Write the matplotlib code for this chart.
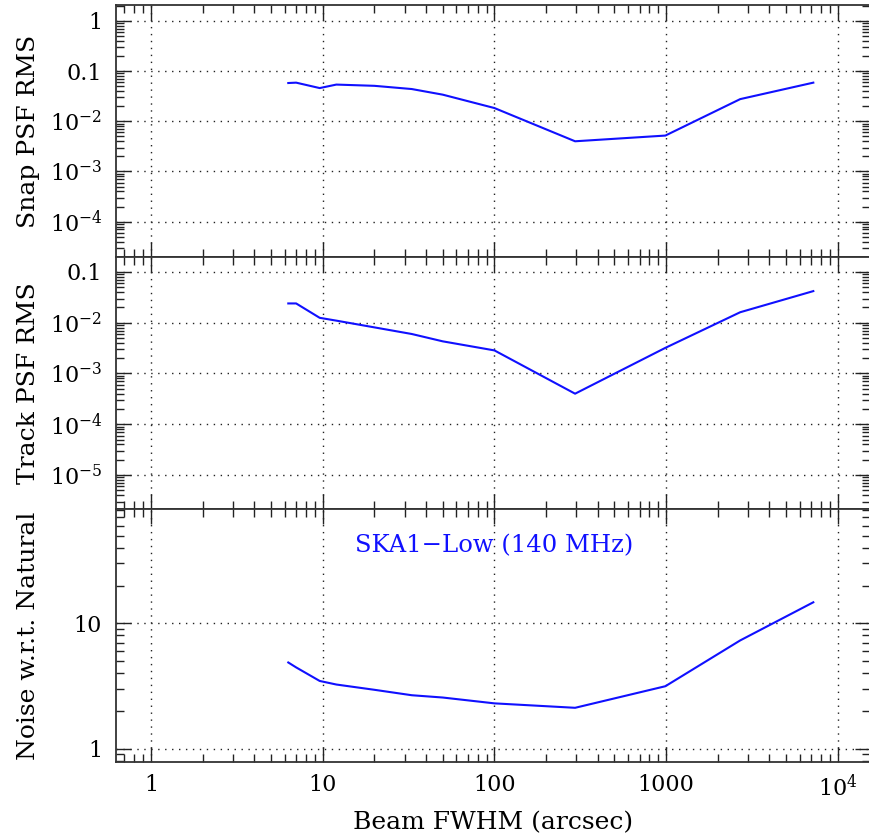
import numpy as np
import matplotlib
matplotlib.use("Agg")
import matplotlib.pyplot as plt
from matplotlib.ticker import LogLocator, FuncFormatter, NullFormatter

# beam FWHM (arcsec) where the curves were sampled
fwhm = [6.3, 7.0, 9.6, 12.0, 20.0, 33.0, 50.0, 100.0, 295.0, 990.0, 2700.0, 7200.0]

snap_rms = [0.058, 0.059, 0.046, 0.054, 0.051, 0.044, 0.034, 0.0184, 0.0040, 0.0052, 0.0277, 0.059]
track_rms = [0.024, 0.024, 0.0125, 0.011, 0.0081, 0.0060, 0.0043, 0.00285, 0.00040, 0.0032, 0.0161, 0.042]
noise_ratio = [4.87, 4.45, 3.47, 3.25, 2.95, 2.67, 2.56, 2.30, 2.12, 3.15, 7.3, 14.7]

ylabels = ["Snap PSF RMS", "Track PSF RMS", "Noise w.r.t. Natural"]
ylims = [(1.95e-5, 2.08), (2.09e-6, 0.195), (0.788, 80.7)]
note = "SKA1\u2212Low (140 MHz)"

plt.rcParams["font.family"] = ["DejaVu Serif"]
plt.rcParams["mathtext.fontset"] = "dejavuserif"


def fmt(v, pos):
    e = int(round(np.log10(v)))
    if -1 <= e <= 3:
        return f"{v:g}"
    return r"$10^{%d}$" % e


fig = plt.figure(figsize=(8.70, 8.39), dpi=100)
gs = fig.add_gridspec(3, 1, left=116 / 870, right=1.0, top=0.994, bottom=0.0921, hspace=0)
axes = [fig.add_subplot(gs[i]) for i in range(3)]

for ax, ys, lab, yl in zip(axes, [snap_rms, track_rms, noise_ratio], ylabels, ylims):
    ax.plot(fwhm, ys, color="#1010ff", lw=1.5)
    ax.set_xscale("log")
    ax.set_yscale("log")
    ax.set_xlim(0.625, 15400)
    ax.set_ylim(*yl)
    ax.xaxis.set_major_locator(LogLocator(base=10, numticks=20))
    ax.xaxis.set_minor_locator(LogLocator(base=10, subs=np.arange(2, 10), numticks=20))
    ax.yaxis.set_major_locator(LogLocator(base=10, numticks=20))
    ax.yaxis.set_minor_locator(LogLocator(base=10, subs=np.arange(2, 10), numticks=20))
    ax.yaxis.set_major_formatter(FuncFormatter(fmt))
    ax.yaxis.set_minor_formatter(NullFormatter())
    ax.xaxis.set_minor_formatter(NullFormatter())
    ax.tick_params(which="both", direction="in", top=True, right=True, color="#222222")
    ax.tick_params(which="major", length=11, width=1.0, labelsize=16)
    ax.tick_params(which="minor", length=5.5, width=1.0)
    ax.tick_params(axis="y", which="major", pad=10)
    ax.tick_params(axis="x", which="major", pad=9)
    ax.grid(True, which="major", color="#222222", linestyle=(0, (1, 4)), lw=1.0)
    for s in ax.spines.values():
        s.set_linewidth(1.3)
        s.set_color("#333333")
    ax.set_ylabel(lab, fontsize=18)
    ax.yaxis.set_label_coords(-0.101, 0.5)

for ax in axes[:2]:
    ax.tick_params(axis="x", labelbottom=False)

axes[2].xaxis.set_major_formatter(FuncFormatter(fmt))
axes[2].set_xlabel("Beam FWHM (arcsec)", fontsize=18)
axes[2].xaxis.set_label_coords(0.5, -0.195)
axes[2].text(100, 41.7, note, color="#1010ff", fontsize=17.5, ha="center", va="center")

fig.savefig("out.png", dpi=100)
